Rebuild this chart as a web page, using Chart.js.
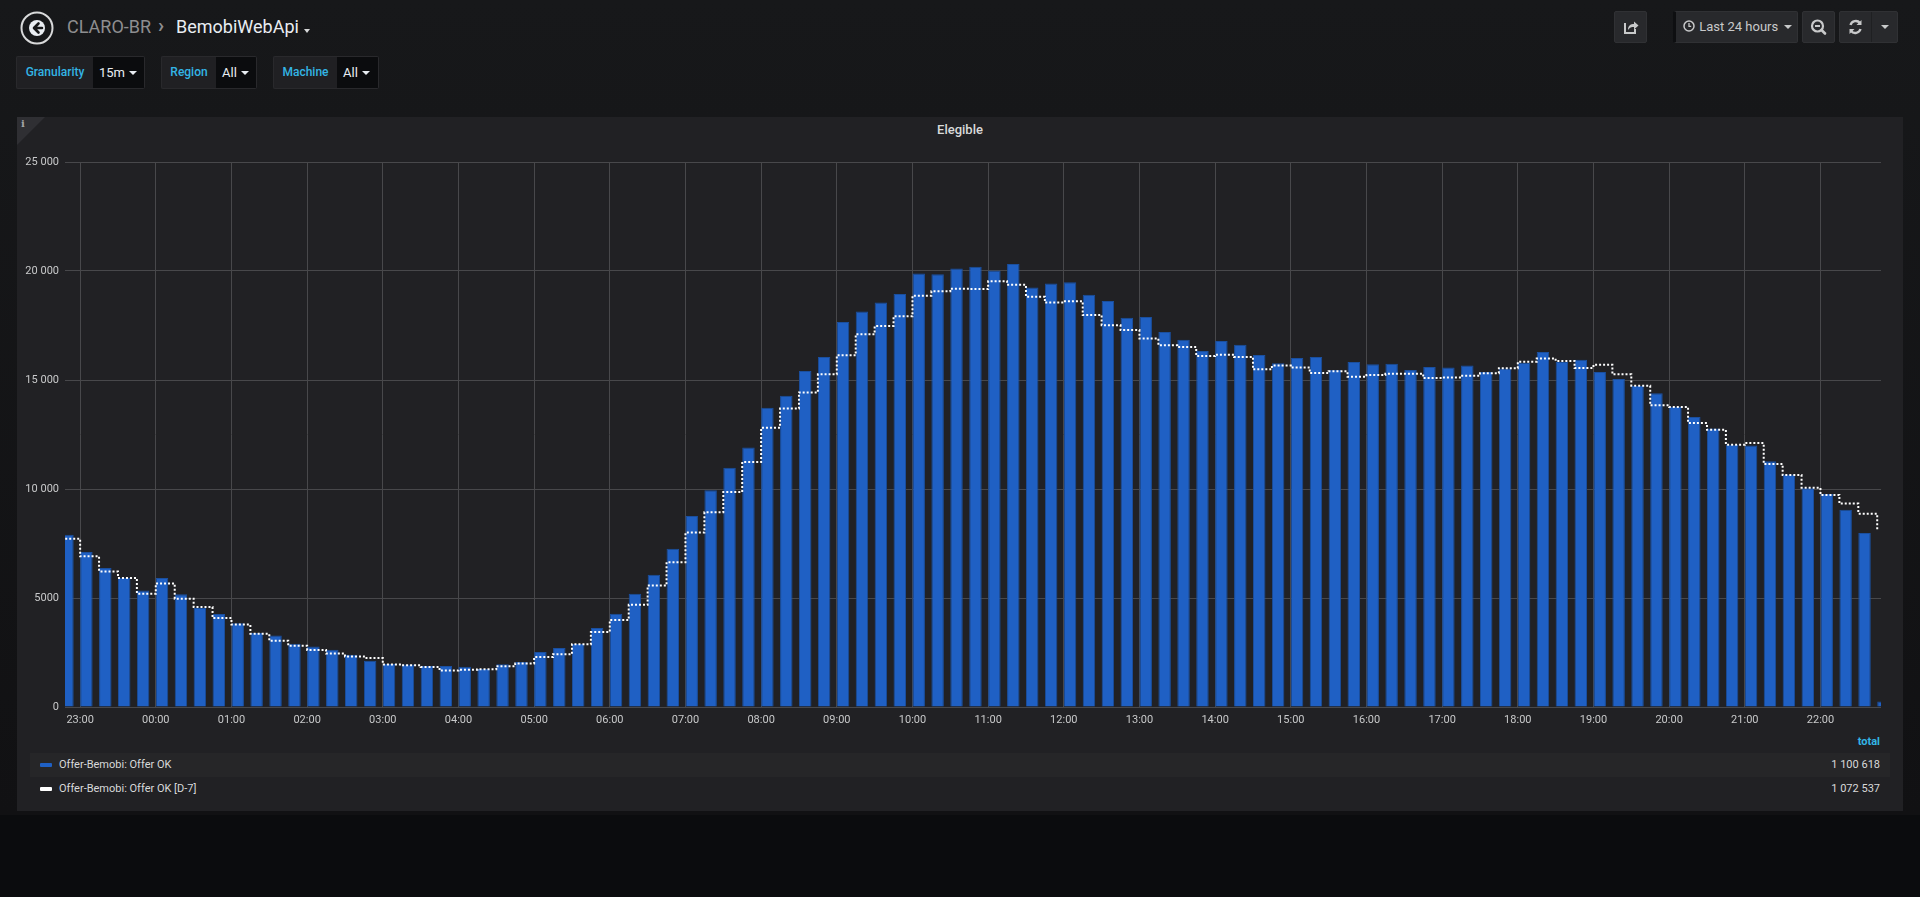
<!DOCTYPE html>
<html>
<head>
<meta charset="utf-8">
<script src="https://cdn.jsdelivr.net/npm/chart.js@4"></script>
<style>
  html, body { margin:0; padding:0; }
  body { width:1920px; height:897px; background:#0b0c0e; font-family: Roboto, "Noto Sans", sans-serif; position:relative; overflow:hidden; }
  #page { position:absolute; left:0; top:0; width:1920px; height:815px; background:linear-gradient(#17181a, #111113); }
  .abs { position:absolute; }
  .crumb { font-size:18px; line-height:20px; top:17px; white-space:nowrap; }
  .varlabel { position:absolute; top:56px; height:33px; box-sizing:border-box; background:#202023; border:1px solid #29292c; border-right:none; border-radius:2px 0 0 2px; color:#33b5e5; font-size:12px; font-weight:500; line-height:31px; text-align:center; }
  .varval { position:absolute; top:56px; height:33px; box-sizing:border-box; background:#0b0c0e; border:1px solid #29292c; border-left:none; border-radius:0 2px 2px 0; color:#e9edf2; font-size:13px; line-height:31px; padding-left:6px; }
  .caret { display:inline-block; width:0; height:0; border-left:4px solid transparent; border-right:4px solid transparent; border-top:4px solid #e9edf2; vertical-align:middle; margin-left:4px; margin-top:-2px; }
  .btn { position:absolute; top:11px; height:32px; box-sizing:border-box; background:#28292c; border:1px solid #303134; border-radius:2px; color:#c8c9ca; font-size:13px; line-height:30px; }
  #panel { position:absolute; left:17px; top:117px; width:1886px; height:694px; background:#212124; }
  #chartbox { position:absolute; left:17px; top:117px; width:1886px; height:620px; }
  .legrow { position:absolute; left:30px; width:1860px; height:24px; }
  .legname { position:absolute; left:29px; top:0; line-height:24px; font-size:11px; color:#d8d9da; white-space:nowrap; }
  .legicon { position:absolute; left:10px; top:10px; width:12px; height:4px; border-radius:1px; }
  .legval { position:absolute; right:10px; top:0; line-height:24px; font-size:11px; color:#d8d9da; }
</style>
</head>
<body>
<div id="page"></div>

<!-- header -->
<svg class="abs" style="left:20px;top:11px" width="34" height="34" viewBox="0 0 34 34">
  <circle cx="17" cy="17" r="15.5" fill="none" stroke="#d8d9da" stroke-width="2"/>
  <circle cx="17" cy="17" r="8" fill="#e9edf2"/>
  <path d="M18.5 12.5 L14 17 L18.5 21.5 M14.5 17 H22" stroke="#161719" stroke-width="2.6" fill="none" stroke-linecap="round" stroke-linejoin="round"/>
</svg>
<div class="abs crumb" style="left:67px;color:#8e8e90">CLARO-BR</div>
<div class="abs crumb" style="left:158px;color:#8e8e90;font-size:20px;top:15px;font-weight:bold">&#x203A;</div>
<div class="abs crumb" style="left:176px;color:#e9edf2">BemobiWebApi</div>
<div class="abs" style="left:304px;top:29px;width:0;height:0;border-left:3.5px solid transparent;border-right:3.5px solid transparent;border-top:4px solid #d8d9da"></div>

<div class="varlabel" style="left:16px;width:77px">Granularity</div>
<div class="varval" style="left:93px;width:52px">15m<span class="caret"></span></div>
<div class="varlabel" style="left:161px;width:55px">Region</div>
<div class="varval" style="left:216px;width:41px">All<span class="caret"></span></div>
<div class="varlabel" style="left:273px;width:64px">Machine</div>
<div class="varval" style="left:337px;width:42px">All<span class="caret"></span></div>

<div class="btn" style="left:1614px;width:33px">
  <svg width="31" height="30" viewBox="0 0 31 30"><path d="M10 11 V21 H20 V17" stroke="#c8c9ca" stroke-width="2" fill="none"/><path d="M13 18 C13 13 16 12 19 12 V9.5 L23.5 13.5 L19 17.5 V15 C16.5 15 14.5 15.5 13 18 Z" fill="#c8c9ca"/></svg>
</div>
<div class="btn" style="left:1673px;width:125px;padding-left:7px;border-left:3px solid #0e0f11">
  <svg width="12" height="12" viewBox="0 0 12 12" style="vertical-align:-1px"><circle cx="6" cy="6" r="5" fill="none" stroke="#c8c9ca" stroke-width="1.5"/><path d="M6 3 V6.3 H8.2" stroke="#c8c9ca" stroke-width="1.3" fill="none"/></svg>
  <span style="margin-left:1px">Last 24 hours</span><span class="caret" style="border-top-color:#c8c9ca;margin-left:6px"></span>
</div>
<div class="btn" style="left:1802px;width:33px">
  <svg width="31" height="30" viewBox="0 0 31 30"><circle cx="14.5" cy="14" r="5.5" fill="none" stroke="#c8c9ca" stroke-width="2.2"/><path d="M12 14 H17" stroke="#c8c9ca" stroke-width="2"/><path d="M18.5 18 L22 21.5" stroke="#c8c9ca" stroke-width="2.6" stroke-linecap="round"/></svg>
</div>
<div class="btn" style="left:1839px;width:59px">
  <svg width="31" height="30" viewBox="0 0 31 30" style="position:absolute;left:0;top:0"><path d="M10.5 13 A5.5 5.5 0 0 1 20 11" stroke="#c8c9ca" stroke-width="2.4" fill="none"/><path d="M21.5 8 V13 H16.5 Z" fill="#c8c9ca"/><path d="M20.5 17 A5.5 5.5 0 0 1 11 19" stroke="#c8c9ca" stroke-width="2.4" fill="none"/><path d="M9.5 22 V17 H14.5 Z" fill="#c8c9ca"/></svg>
  <div style="position:absolute;left:31px;top:0;width:1px;height:30px;background:#1f2022"></div>
  <div style="position:absolute;left:41px;top:13px;width:0;height:0;border-left:4px solid transparent;border-right:4px solid transparent;border-top:4px solid #c8c9ca"></div>
</div>

<!-- panel -->
<div id="panel">
  <div style="position:absolute;left:0;top:0;width:0;height:0;border-top:28px solid #2f2f33;border-right:28px solid transparent"></div>
  <div style="position:absolute;left:4px;top:1px;font-family:'DejaVu Serif',serif;font-size:10px;font-weight:bold;color:#a5a5a7">i</div>
  <div style="position:absolute;left:0;width:1886px;top:5px;text-align:center;font-size:13px;font-weight:500;color:#d8d9da">Elegible</div>
  <div style="position:absolute;right:23px;top:618px;font-size:11px;font-weight:bold;color:#33b5e5">total</div>
</div>
<div id="chartbox"><canvas id="c"></canvas></div>

<div class="legrow" style="top:753px;background:#262628">
  <div class="legicon" style="background:#1f60c4"></div>
  <div class="legname">Offer-Bemobi: Offer OK</div>
  <div class="legval" id="tot1">1 100 618</div>
</div>
<div class="legrow" style="top:777px">
  <div class="legicon" style="background:#ffffff"></div>
  <div class="legname">Offer-Bemobi: Offer OK [D-7]</div>
  <div class="legval" id="tot2">1 072 537</div>
</div>

<script>
// ---- data ----
const times = [
  '22:45',
  '23:00','23:15','23:30','23:45',
  '00:00','00:15','00:30','00:45',
  '01:00','01:15','01:30','01:45',
  '02:00','02:15','02:30','02:45',
  '03:00','03:15','03:30','03:45',
  '04:00','04:15','04:30','04:45',
  '05:00','05:15','05:30','05:45',
  '06:00','06:15','06:30','06:45',
  '07:00','07:15','07:30','07:45',
  '08:00','08:15','08:30','08:45',
  '09:00','09:15','09:30','09:45',
  '10:00','10:15','10:30','10:45',
  '11:00','11:15','11:30','11:45',
  '12:00','12:15','12:30','12:45',
  '13:00','13:15','13:30','13:45',
  '14:00','14:15','14:30','14:45',
  '15:00','15:15','15:30','15:45',
  '16:00','16:15','16:30','16:45',
  '17:00','17:15','17:30','17:45',
  '18:00','18:15','18:30','18:45',
  '19:00','19:15','19:30','19:45',
  '20:00','20:15','20:30','20:45',
  '21:00','21:15','21:30','21:45',
  '22:00','22:15','22:30','22:45'
];
const offerOk = [
  7900,
  7110,6380,5920,5340,
  5920,5170,4540,4270,
  3840,3390,3280,2900,
  2770,2630,2400,2120,
  1970,1950,1880,1880,
  1850,1740,1960,2060,
  2520,2710,2890,3620,
  4280,5200,6070,7260,
  8760,9940,10980,11900,
  13730,14280,15410,16060,
  17660,18140,18550,18950,
  19880,19850,20120,20200,
  20020,20320,19240,19430,
  19480,18910,18620,17860,
  17890,17200,16850,16330,
  16790,16620,16150,15770,
  16010,16060,15460,15830,
  15720,15750,15460,15600,
  15570,15670,15370,15530,
  15790,16290,15830,15930,
  15370,15050,14730,14390,
  13760,13300,12780,12030,
  12000,11270,10660,10030,
  9770,9050,7980,250
];
const offerOkD7 = [
  7720,
  6910,6220,5920,5200,
  5670,4970,4590,4080,
  3780,3360,3040,2810,
  2620,2450,2320,2250,
  1950,1910,1840,1670,
  1710,1730,1870,2000,
  2290,2420,2880,3440,
  3990,4690,5570,6640,
  8000,8930,9860,11240,
  12810,13690,14430,15260,
  16130,17100,17480,17920,
  18870,19070,19190,19170,
  19530,19370,18820,18550,
  18610,17980,17510,17290,
  16900,16590,16510,16100,
  16160,16060,15490,15660,
  15570,15320,15400,15150,
  15230,15290,15290,15090,
  15120,15200,15310,15540,
  15840,15990,15870,15550,
  15700,15260,14740,13840,
  13760,13030,12720,12030,
  12110,11150,10640,10060,
  9730,9330,8870,8090
];
const xTickLabels = ['23:00','00:00','01:00','02:00','03:00','04:00','05:00','06:00','07:00','08:00','09:00','10:00',
                     '11:00','12:00','13:00','14:00','15:00','16:00','17:00','18:00','19:00','20:00','21:00','22:00'];
const yTickLabels = ['0','5000','10 000','15 000','20 000','25 000'];
const seriesNames = ['Offer-Bemobi: Offer OK','Offer-Bemobi: Offer OK [D-7]'];
const rangeFrom = '22:48';   // "Last 24 hours" window start
const rangeHours = 24;

// ---- helpers: minutes relative to the first tick label (23:00), with day rollover ----
function toMin(s){ const p = s.split(':'); return (+p[0])*60 + (+p[1]); }
const base = toMin(xTickLabels[0]);
function relMinutes(list){
  const out = []; let prev = -Infinity, add = 0;
  list.forEach((s,i) => {
    let m = toMin(s) - base;
    if (i === 0 && m > 0) m -= 1440;
    m += add;
    if (m < prev) { add += 1440; m += 1440; }
    out.push(m); prev = m;
  });
  return out;
}
const tMin = relMinutes(times);
const tickMin = relMinutes(xTickLabels);
let xMin = toMin(rangeFrom) - base; if (xMin > 0) xMin -= 1440;
const xMax = xMin + rangeHours*60;
const slot = 15, barFrac = 0.66;

const barData = offerOk.map((v,i) => ({x: tMin[i] + slot*barFrac/2, y: v}));
const lineData = offerOkD7.map((v,i) => ({x: tMin[i], y: v}));

Chart.defaults.font.family = 'Roboto, "Noto Sans", sans-serif';
const gridColor = '#48484b';

new Chart(document.getElementById('c'), {
  data: {
    datasets: [
      { type:'line', label: seriesNames[1], data: lineData, order: 0, clip: 0,
        borderColor:'#ffffff', borderWidth:2, borderDash:[2,2], borderCapStyle:'butt',
        stepped:true, pointRadius:0, fill:false },
      { type:'bar', label: seriesNames[0], data: barData, order: 1, clip: 0,
        backgroundColor:'#1f60c4', borderColor:'#1a4f9f', borderWidth:1,
        categoryPercentage:1, barPercentage:barFrac, borderSkipped:'bottom' }
    ]
  },
  options: {
    responsive:true, maintainAspectRatio:false, animation:false,
    layout:{ padding:{ top:45, right:22, left:0, bottom:0 } },
    plugins:{ legend:{display:false}, tooltip:{enabled:false} },
    scales:{
      x:{ type:'linear', min:xMin, max:xMax, offset:false,
          afterBuildTicks:(s)=>{ s.ticks = tickMin.map(v=>({value:v})); },
          afterFit:(s)=>{ s.height = 30; },
          grid:{ color:gridColor, lineWidth:1, drawTicks:false, offset:false },
          border:{ display:false },
          ticks:{ color:'#c8c9ca', font:{size:11}, padding:7, maxRotation:0, autoSkip:false,
                  callback:(v,i)=> xTickLabels[i] } },
      y:{ min:0, max:25000,
          afterFit:(s)=>{ s.width = 48; },
          grid:{ color:gridColor, lineWidth:1, drawTicks:false },
          border:{ display:false },
          ticks:{ stepSize:5000, color:'#c8c9ca', font:{size:11}, padding:6,
                  callback:(v,i)=> yTickLabels[i] } }
    }
  }
});
</script>
</body>
</html>
